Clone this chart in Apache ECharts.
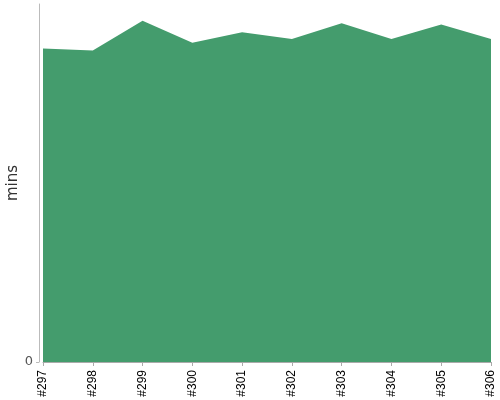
<!DOCTYPE html>
<html>
<head>
    <meta charset="utf-8">
    <title>Build times</title>
    <script src="https://cdn.jsdelivr.net/npm/echarts@6/dist/echarts.min.js"></script>
    <style>
        body { margin: 0; padding: 0; background: #fff; }
        #chart { width: 500px; height: 400px; }
    </style>
</head>
<body>
    <div id="chart"></div>
    <script>
        const builds = ['#297', '#298', '#299', '#300', '#301', '#302', '#303', '#304', '#305', '#306'];
        const mins = [87.6, 87.0, 95.3, 89.2, 92.1, 90.2, 94.6, 90.2, 94.3, 90.2];
        const yMax = 100;

        const chart = echarts.init(document.getElementById('chart'));
        chart.setOption({
            animation: false,
            grid: { left: 43, right: 9, top: 4, bottom: 38, containLabel: false, outerBoundsMode: 'none' },
            xAxis: {
                type: 'category',
                data: builds,
                boundaryGap: false,
                offset: 4,
                axisLine: { lineStyle: { color: '#aaa' } },
                axisTick: { alignWithLabel: true, length: 4, lineStyle: { color: '#aaa' } },
                axisLabel: {
                    rotate: 90,
                    color: '#000',
                    fontSize: 12,
                    fontFamily: 'Liberation Sans',
                    margin: 4
                },
                splitLine: { show: false }
            },
            yAxis: {
                type: 'value',
                min: 0,
                max: yMax,
                interval: yMax,
                offset: 4,
                name: 'mins',
                nameLocation: 'middle',
                nameGap: 18,
                nameMoveOverlap: false,
                nameTextStyle: { color: '#333', fontSize: 15, fontFamily: 'DejaVu Sans' },
                axisLine: { show: true, lineStyle: { color: '#bbb' } },
                axisTick: { show: true, length: 3, lineStyle: { color: '#bbb' } },
                axisLabel: {
                    color: '#555',
                    fontSize: 13,
                    fontFamily: 'DejaVu Sans',
                    showMaxLabel: false,
                    margin: 6
                },
                splitLine: { show: false }
            },
            series: [{
                type: 'line',
                data: mins,
                symbol: 'none',
                lineStyle: { width: 0 },
                areaStyle: { color: '#449c6d', opacity: 1 }
            }]
        });
    </script>
</body>
</html>
